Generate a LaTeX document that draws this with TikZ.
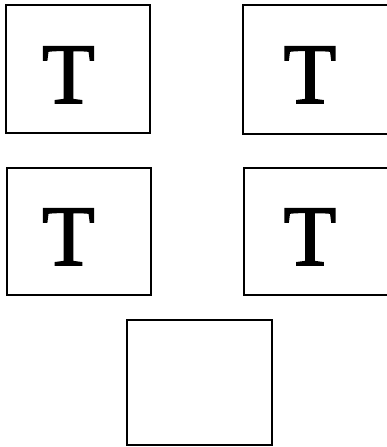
\documentclass[tikz,border=0pt]{standalone}
\usepackage{fontspec}
\setmainfont{Liberation Serif}
\newfontfamily\letterfont[FakeBold=2]{Liberation Serif}
\usetikzlibrary{positioning}

\begin{document}
\begin{tikzpicture}[
                    x=1pt, y=-1pt,
                    panel/.style={draw, rectangle, line width=2.8pt, inner sep=0pt, fill=white},
                    glyph/.style={anchor=base, inner sep=0pt, font=\letterfont\fontsize{86}{86}\selectfont}
                ]
                \clip (0,0) rectangle (387,447);
                % Top row
                \node[panel, minimum width=144pt, minimum height=128pt] (tl) at (78,69) {};
                \node[panel, minimum width=147pt, minimum height=129pt] (tr) at (316.5,69.5) {};

                % Middle row
                \node[panel, minimum width=144pt, minimum height=127pt] (ml) at (79,231.5) {};
                \node[panel, minimum width=147pt, minimum height=127pt] (mr) at (317.5,231.5) {};

                % Bottom (empty)
                \node[panel, minimum width=145pt, minimum height=125pt] (bot) at (199.5,382.5) {};

                % Letters
                \node[glyph] (tlT) at ([xshift=-9.5pt, yshift=-34pt]tl.center) {T};
                \node[glyph] (trT) at ([xshift=-6.5pt, yshift=-33.5pt]tr.center) {T};
                \node[glyph] (mlT) at ([xshift=-10.5pt, yshift=-33.5pt]ml.center) {T};
                \node[glyph] (mrT) at ([xshift=-7.5pt, yshift=-33.5pt]mr.center) {T};
            \end{tikzpicture}
\end{document}
